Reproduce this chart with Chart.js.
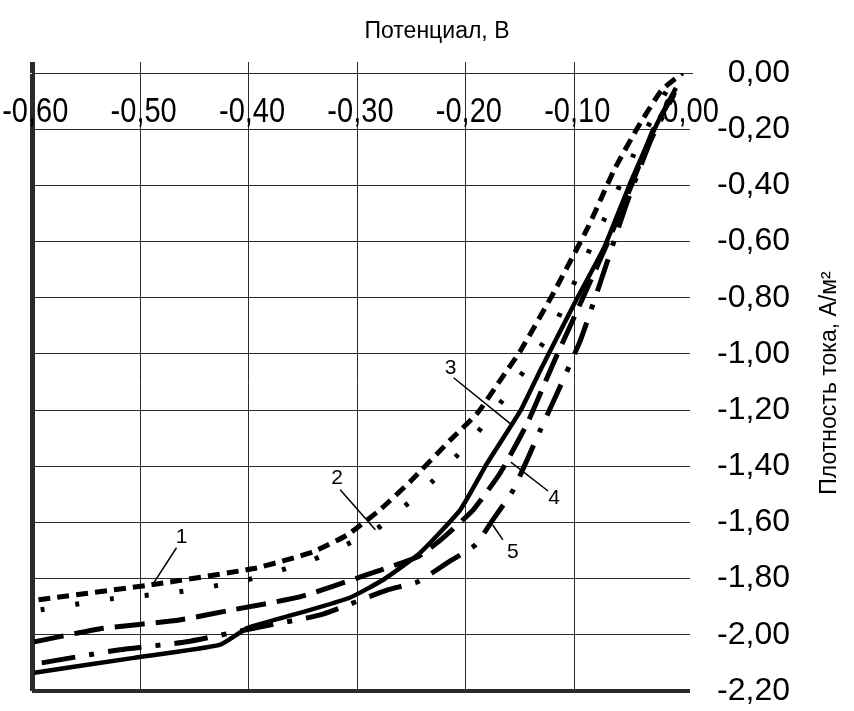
<!DOCTYPE html>
<html lang="ru">
<head>
<meta charset="utf-8">
<title>Потенциал – плотность тока</title>
<script src="https://cdn.jsdelivr.net/npm/chart.js@4.4.1/dist/chart.umd.min.js"></script>
<style>
  html, body { margin: 0; padding: 0; background: #fff; }
</style>
</head>
<body>
<canvas id="polarChart" width="854" height="711"></canvas>
<script>
// Кривые 1-5: потенциал, В / плотность тока, А/м2
const potential1 = [-0.594, -0.49, -0.393, -0.341, -0.309, -0.279, -0.25, -0.214, -0.189, -0.168, -0.149, -0.119, -0.087, -0.063, -0.041, -0.019, 0.0];
const current1 = [-1.875, -1.822, -1.762, -1.705, -1.644, -1.555, -1.45, -1.306, -1.21, -1.093, -0.986, -0.783, -0.548, -0.345, -0.192, -0.06, 0.0];

const potential2 = [-0.592, -0.527, -0.464, -0.401, -0.341, -0.283, -0.235, -0.193, -0.154, -0.119, -0.091, -0.066, -0.043, -0.024, -0.012];
const current2 = [-1.911, -1.872, -1.847, -1.804, -1.733, -1.626, -1.470, -1.299, -1.103, -0.904, -0.673, -0.470, -0.274, -0.132, -0.043];

const potential3 = [-0.598, -0.506, -0.427, -0.401, -0.353, -0.307, -0.276, -0.242, -0.205, -0.18, -0.149, -0.131, -0.098, -0.072, -0.047, -0.024, -0.006];
const current3 = [-2.135, -2.082, -2.036, -1.975, -1.922, -1.868, -1.804, -1.708, -1.555, -1.388, -1.199, -1.057, -0.808, -0.619, -0.381, -0.185, -0.053];

const potential4 = [-0.598, -0.538, -0.464, -0.415, -0.353, -0.291, -0.244, -0.223, -0.193, -0.168, -0.143, -0.119, -0.094, -0.070, -0.047, -0.027, -0.007];
const current4 = [-2.025, -1.979, -1.947, -1.911, -1.865, -1.786, -1.722, -1.662, -1.555, -1.423, -1.246, -1.032, -0.819, -0.612, -0.399, -0.203, -0.068];

const potential5 = [-0.591, -0.519, -0.457, -0.39, -0.334, -0.272, -0.244, -0.217, -0.191, -0.175, -0.156, -0.131, -0.115, -0.094, -0.075, -0.052, -0.029, -0.008];
const current5 = [-2.100, -2.053, -2.025, -1.972, -1.929, -1.840, -1.811, -1.744, -1.680, -1.591, -1.484, -1.270, -1.135, -0.950, -0.737, -0.470, -0.238, -0.078];

const xTickValues = [-0.6, -0.5, -0.4, -0.3, -0.2, -0.1, 0];
const xTickLabels = ['-0,60', '-0,50', '-0,40', '-0,30', '-0,20', '-0,10', '0,00'];

const xTitle = 'Потенциал, В';
const yTitle = 'Плотность тока, А/м²';

// номера кривых и выноски к ним (в единицах осей)
const curveNames = ['1', '2', '3', '4', '5'];
const namePos = [[-0.462, -1.651], [-0.3185, -1.441], [-0.2139, -1.050], [-0.1185, -1.512], [-0.1565, -1.705]];
const leaderFrom = [[-0.4667, -1.690], [-0.3157, -1.484], [-0.2111, -1.085], [-0.124, -1.488], [-0.1657, -1.662]];
const leaderTo = [[-0.4889, -1.822], [-0.2833, -1.626], [-0.1583, -1.250], [-0.1583, -1.385], [-0.175, -1.609]];

const FONT = "'Liberation Sans', Arial, sans-serif";

function toPoints(xs, ys) {
  return xs.map((x, i) => ({ x: x, y: ys[i] }));
}

function commaFmt(v) {
  return Number(v).toFixed(2).replace('.', ',');
}

const datasets = [
  { label: '1', data: toPoints(potential1, current1), borderWidth: 5, borderDash: [12, 7] },
  { label: '2', data: toPoints(potential2, current2), borderWidth: 5, borderDash: [4, 31] },
  { label: '3', data: toPoints(potential3, current3), borderWidth: 4.5 },
  { label: '4', data: toPoints(potential4, current4), borderWidth: 5, borderDash: [30, 11] },
  { label: '5', data: toPoints(potential5, current5), borderWidth: 5, borderDash: [34, 14, 5, 14] }
];

const axisText = {
  id: 'axisText',
  beforeDatasetsDraw(chart) {
    const { ctx, chartArea } = chart;
    const xs = chart.scales.x;
    ctx.save();
    ctx.fillStyle = '#000';
    ctx.font = '35px ' + FONT;
    ctx.textAlign = 'left';
    ctx.textBaseline = 'alphabetic';
    // подписи оси потенциала: запятая стоит на линии сетки
    xTickValues.forEach((v, i) => {
      const label = xTickLabels[i];
      const head = label.slice(0, label.indexOf(','));
      const shift = ctx.measureText(head).width + ctx.measureText(',').width / 2;
      ctx.save();
      ctx.translate(xs.getPixelForValue(v), chartArea.top + 49);
      ctx.scale(0.83, 1);
      ctx.fillText(label, -shift, 0);
      ctx.restore();
    });

    ctx.font = '23px ' + FONT;
    ctx.textAlign = 'center';
    ctx.textBaseline = 'middle';
    ctx.fillText(xTitle, 437, 32);

    ctx.save();
    ctx.translate(830, 383);
    ctx.rotate(-Math.PI / 2);
    ctx.font = '23px ' + FONT;
    ctx.fillText(yTitle, 0, 0);
    ctx.restore();
    ctx.restore();
  },
  afterDatasetsDraw(chart) {
    const { ctx } = chart;
    const xs = chart.scales.x;
    const ys = chart.scales.y;
    ctx.save();
    ctx.strokeStyle = '#000';
    ctx.lineWidth = 1.5;
    ctx.fillStyle = '#000';
    ctx.font = '21px ' + FONT;
    ctx.textAlign = 'center';
    ctx.textBaseline = 'middle';
    curveNames.forEach((name, i) => {
      ctx.beginPath();
      ctx.moveTo(xs.getPixelForValue(leaderFrom[i][0]), ys.getPixelForValue(leaderFrom[i][1]));
      ctx.lineTo(xs.getPixelForValue(leaderTo[i][0]), ys.getPixelForValue(leaderTo[i][1]));
      ctx.stroke();
      ctx.fillText(name, xs.getPixelForValue(namePos[i][0]), ys.getPixelForValue(namePos[i][1]));
    });
    ctx.restore();
  }
};

new Chart(document.getElementById('polarChart'), {
  type: 'line',
  data: { datasets: datasets },
  options: {
    responsive: false,
    animation: false,
    devicePixelRatio: 1,
    layout: { padding: { left: 32, top: 62, right: 64, bottom: 20 } },
    plugins: {
      legend: { display: false },
      tooltip: { enabled: false }
    },
    elements: {
      point: { radius: 0 },
      line: { tension: 0.15, borderColor: '#000', fill: false }
    },
    scales: {
      x: {
        type: 'linear',
        position: 'top',
        min: -0.6,
        max: 0.007,
        ticks: { display: false, stepSize: 0.1 },
        grid: {
          drawTicks: true,
          tickLength: 11,
          color: c => (c.tick && c.tick.value > -0.05 ? 'rgba(0,0,0,0)' : '#2a2a2a'),
          lineWidth: c => (c.tick && c.tick.value <= -0.6 ? 5 : 1)
        },
        border: { display: true, color: '#2a2a2a', width: 1 }
      },
      y: {
        type: 'linear',
        position: 'right',
        min: -2.2,
        max: 0,
        ticks: {
          stepSize: 0.2,
          color: '#000',
          padding: 0,
          crossAlign: 'far',
          font: { family: FONT, size: 32 },
          callback: v => commaFmt(v)
        },
        grid: {
          drawTicks: true,
          tickLength: 27,
          tickColor: 'rgba(0,0,0,0)',
          color: '#2a2a2a',
          lineWidth: c => (c.tick && c.tick.value <= -2.19 ? 4 : 1)
        },
        border: { display: false }
      }
    }
  },
  plugins: [axisText]
});
</script>
</body>
</html>
